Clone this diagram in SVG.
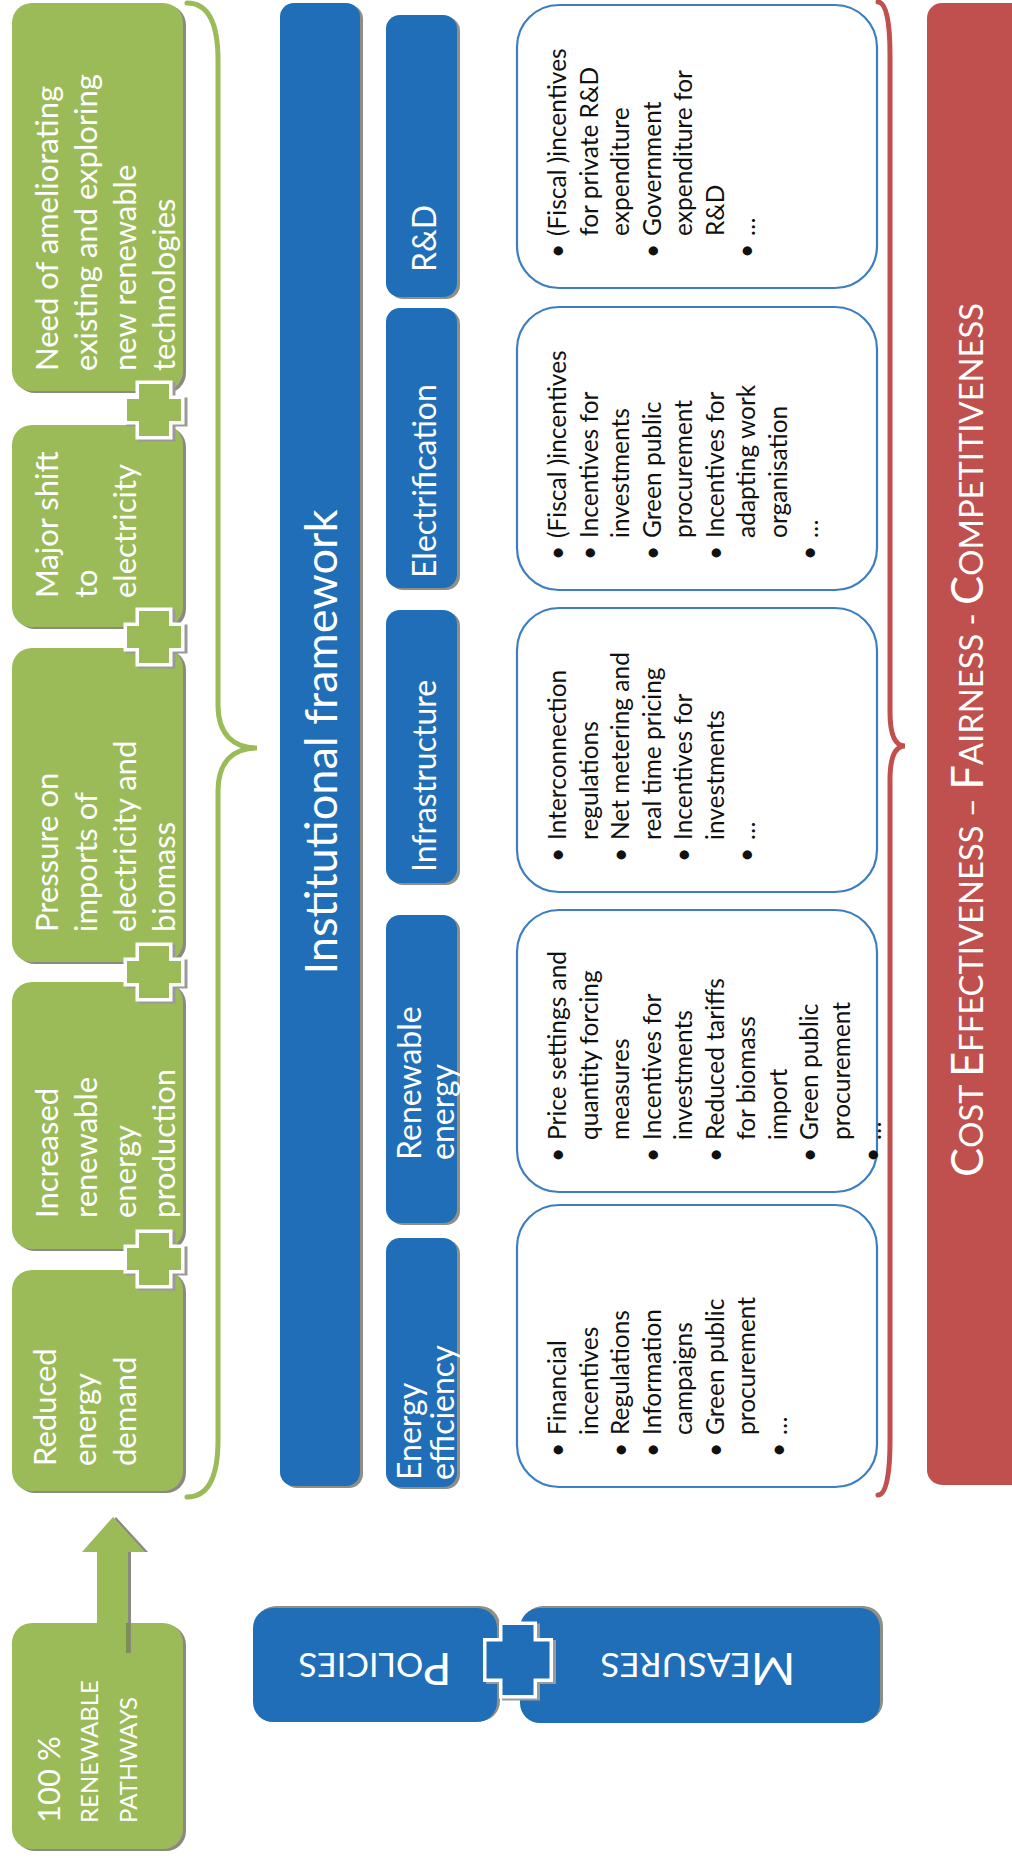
<svg xmlns="http://www.w3.org/2000/svg" width="1012" height="1858" viewBox="0 0 1012 1858">
<defs>
<style>
.gbox{fill:#9BBB59}
.gsh{fill:#8a8a80}
.bsh{fill:#8f8f86}
.blue{fill:#1F6EB7}
.red{fill:#C0504D}
.lbox{fill:#fff;stroke:#3D7EC2;stroke-width:2.2}
.wt{fill:#fff;font-family:Lato,"Liberation Sans",sans-serif}
.lt{fill:#111;font-family:Lato,"Liberation Sans",sans-serif;font-size:24.5px}
.g{font-size:31px}
.cat{font-size:32px}
.brace{fill:none;stroke-width:5;stroke-linecap:round}
.gplus{fill:#9BBB59;stroke:#fff;stroke-width:7;paint-order:stroke}
.bplus{fill:#1F6EB7;stroke:#fff;stroke-width:7;paint-order:stroke}
.psh{fill:#9a9a9a}
</style>
<path id="gcross" d="M-15,-26 H15 V-11 H27 V11 H15 V26 H-15 V11 H-27 V-11 H-15 Z"/>
</defs>
<rect width="1012" height="1858" fill="#fff"/>

<!-- green column -->
<g id="n-need">
<rect class="gsh" x="15" y="5" width="171" height="388" rx="20"/>
<rect class="gbox" x="12" y="3" width="171" height="388" rx="20"/>
<text class="wt g" transform="translate(58 371) rotate(-90)"><tspan x="0" y="0">Need of ameliorating</tspan><tspan x="0" y="39">existing and exploring</tspan><tspan x="0" y="78">new renewable</tspan><tspan x="0" y="117">technologies</tspan></text>
</g>
<g id="n-major">
<rect class="gsh" x="15" y="427" width="171" height="202" rx="20"/>
<rect class="gbox" x="12" y="425" width="171" height="202" rx="20"/>
<text class="wt g" transform="translate(58 598) rotate(-90)"><tspan x="0" y="0">Major shift</tspan><tspan x="0" y="39">to</tspan><tspan x="0" y="78">electricity</tspan></text>
</g>
<g id="n-pressure">
<rect class="gsh" x="15" y="650" width="171" height="314" rx="20"/>
<rect class="gbox" x="12" y="648" width="171" height="314" rx="20"/>
<text class="wt g" transform="translate(58 932) rotate(-90)"><tspan x="0" y="0">Pressure on</tspan><tspan x="0" y="39">imports of</tspan><tspan x="0" y="78">electricity and</tspan><tspan x="0" y="117">biomass</tspan></text>
</g>
<g id="n-increased">
<rect class="gsh" x="15" y="984" width="171" height="267" rx="20"/>
<rect class="gbox" x="12" y="982" width="171" height="267" rx="20"/>
<text class="wt g" transform="translate(58 1218) rotate(-90)"><tspan x="0" y="0">Increased</tspan><tspan x="0" y="39">renewable</tspan><tspan x="0" y="78">energy</tspan><tspan x="0" y="117">production</tspan></text>
</g>
<g id="n-reduced">
<rect class="gsh" x="15" y="1272" width="171" height="221" rx="20"/>
<rect class="gbox" x="12" y="1270" width="171" height="221" rx="20"/>
<text class="wt g" transform="translate(56 1466) rotate(-90)"><tspan x="0" y="0">Reduced</tspan><tspan x="0" y="40">energy</tspan><tspan x="0" y="80">demand</tspan></text>
</g>
<g id="n-pathways">
<rect class="gsh" x="15" y="1625" width="171" height="226" rx="20"/>
<rect class="gbox" x="12" y="1623" width="171" height="226" rx="20"/>
<text class="wt" transform="translate(60 1823) rotate(-90)"><tspan x="0" y="0" font-size="31">100 %</tspan><tspan x="0" y="38" font-size="24">RENEWABLE</tspan><tspan x="0" y="77" font-size="24">PATHWAYS</tspan></text>
</g>

<!-- institutional framework -->
<g id="n-institutional">
<rect class="bsh" x="283" y="5" width="80" height="1483" rx="14"/>
<rect class="blue" x="280" y="3" width="80" height="1483" rx="14"/>
<text class="wt" font-size="44" text-anchor="middle" textLength="465" lengthAdjust="spacingAndGlyphs" transform="translate(337 742) rotate(-90)">Institutional framework</text>
</g>

<!-- category boxes -->
<g id="n-rd">
<rect class="bsh" x="389" y="17" width="71" height="282" rx="14"/>
<rect class="blue" x="386" y="15" width="71" height="282" rx="14"/>
<text class="wt cat" transform="translate(436 272) rotate(-90)">R&amp;D</text>
</g>
<g id="n-electrification">
<rect class="bsh" x="389" y="310" width="71" height="280" rx="14"/>
<rect class="blue" x="386" y="308" width="71" height="280" rx="14"/>
<text class="wt cat" transform="translate(436 578) rotate(-90)">Electrification</text>
</g>
<g id="n-infrastructure">
<rect class="bsh" x="389" y="612" width="71" height="273" rx="14"/>
<rect class="blue" x="386" y="610" width="71" height="273" rx="14"/>
<text class="wt cat" transform="translate(436 872) rotate(-90)">Infrastructure</text>
</g>
<g id="n-renewable">
<rect class="bsh" x="389" y="917" width="71" height="308" rx="14"/>
<rect class="blue" x="386" y="915" width="71" height="308" rx="14"/>
<text class="wt cat" transform="translate(421 1160) rotate(-90)"><tspan x="0" y="0">Renewable</tspan><tspan x="0" y="33">energy</tspan></text>
</g>
<g id="n-efficiency">
<rect class="bsh" x="389" y="1240" width="71" height="249" rx="14"/>
<rect class="blue" x="386" y="1238" width="71" height="249" rx="14"/>
<text class="wt cat" transform="translate(421 1480) rotate(-90)"><tspan x="0" y="0">Energy</tspan><tspan x="0" y="33">efficiency</tspan></text>
</g>

<!-- list boxes -->
<g id="n-list-rd">
<rect class="lbox" x="517" y="5" width="360" height="283" rx="42"/>
<g class="lt" transform="translate(566 236) rotate(-90)">
<text x="-15" y="0" text-anchor="middle">•</text><text x="0" y="0">(Fiscal )incentives</text>
<text x="0" y="31.5">for private R&amp;D</text>
<text x="0" y="63">expenditure</text>
<text x="-15" y="94.5" text-anchor="middle">•</text><text x="0" y="94.5">Government</text>
<text x="0" y="126">expenditure for</text>
<text x="0" y="157.5">R&amp;D</text>
<text x="-15" y="189" text-anchor="middle">•</text><text x="0" y="189">…</text>
</g>
</g>
<g id="n-list-electrification">
<rect class="lbox" x="517" y="307" width="360" height="283" rx="42"/>
<g class="lt" transform="translate(566 538) rotate(-90)">
<text x="-15" y="0" text-anchor="middle">•</text><text x="0" y="0">(Fiscal )incentives</text>
<text x="-15" y="31.5" text-anchor="middle">•</text><text x="0" y="31.5">Incentives for</text>
<text x="0" y="63">investments</text>
<text x="-15" y="94.5" text-anchor="middle">•</text><text x="0" y="94.5">Green public</text>
<text x="0" y="126">procurement</text>
<text x="-15" y="157.5" text-anchor="middle">•</text><text x="0" y="157.5">Incentives for</text>
<text x="0" y="189">adapting work</text>
<text x="0" y="220.5">organisation</text>
<text x="-15" y="252" text-anchor="middle">•</text><text x="0" y="252">…</text>
</g>
</g>
<g id="n-list-infrastructure">
<rect class="lbox" x="517" y="608" width="360" height="284" rx="42"/>
<g class="lt" transform="translate(566 840) rotate(-90)">
<text x="-15" y="0" text-anchor="middle">•</text><text x="0" y="0">Interconnection</text>
<text x="0" y="31.5">regulations</text>
<text x="-15" y="63" text-anchor="middle">•</text><text x="0" y="63">Net metering and</text>
<text x="0" y="94.5">real time pricing</text>
<text x="-15" y="126" text-anchor="middle">•</text><text x="0" y="126">Incentives for</text>
<text x="0" y="157.5">investments</text>
<text x="-15" y="189" text-anchor="middle">•</text><text x="0" y="189">…</text>
</g>
</g>
<g id="n-list-renewable">
<rect class="lbox" x="517" y="910" width="360" height="282" rx="42"/>
<g class="lt" transform="translate(566 1140) rotate(-90)">
<text x="-15" y="0" text-anchor="middle">•</text><text x="0" y="0">Price settings and</text>
<text x="0" y="31.5">quantity forcing</text>
<text x="0" y="63">measures</text>
<text x="-15" y="94.5" text-anchor="middle">•</text><text x="0" y="94.5">Incentives for</text>
<text x="0" y="126">investments</text>
<text x="-15" y="157.5" text-anchor="middle">•</text><text x="0" y="157.5">Reduced tariffs</text>
<text x="0" y="189">for biomass</text>
<text x="0" y="220.5">import</text>
<text x="-15" y="252" text-anchor="middle">•</text><text x="0" y="252">Green public</text>
<text x="0" y="283.5">procurement</text>
<text x="-15" y="315" text-anchor="middle">•</text><text x="0" y="315">…</text>
</g>
</g>
<g id="n-list-efficiency">
<rect class="lbox" x="517" y="1205" width="360" height="282" rx="42"/>
<g class="lt" transform="translate(566 1435) rotate(-90)">
<text x="-15" y="0" text-anchor="middle">•</text><text x="0" y="0">Financial</text>
<text x="0" y="31.5">incentives</text>
<text x="-15" y="63" text-anchor="middle">•</text><text x="0" y="63">Regulations</text>
<text x="-15" y="94.5" text-anchor="middle">•</text><text x="0" y="94.5">Information</text>
<text x="0" y="126">campaigns</text>
<text x="-15" y="157.5" text-anchor="middle">•</text><text x="0" y="157.5">Green public</text>
<text x="0" y="189">procurement</text>
<text x="-15" y="220.5" text-anchor="middle">•</text><text x="0" y="220.5">…</text>
</g>
</g>

<!-- red bar -->
<g id="n-criteria">
<rect class="red" x="927" y="3" width="110" height="1482" rx="15"/>
<text class="wt" textLength="874" lengthAdjust="spacingAndGlyphs" text-anchor="middle" transform="translate(983 740) rotate(-90)"><tspan font-size="44">C</tspan><tspan font-size="33">OST </tspan><tspan font-size="44">E</tspan><tspan font-size="33">FFECTIVENESS – </tspan><tspan font-size="44">F</tspan><tspan font-size="33">AIRNESS - </tspan><tspan font-size="44">C</tspan><tspan font-size="33">OMPETITIVENESS</tspan></text>
</g>

<!-- policies / measures -->
<g id="n-policies">
<rect class="bsh" x="256" y="1606" width="244" height="115" rx="20"/>
<rect class="blue" x="253" y="1608" width="244" height="114" rx="20"/>
<text class="wt" text-anchor="middle" textLength="153" lengthAdjust="spacingAndGlyphs" transform="translate(375 1665) rotate(180)" y="12"><tspan font-size="44">P</tspan><tspan font-size="32">OLICIES</tspan></text>
</g>
<g id="n-measures">
<rect class="bsh" x="523" y="1606" width="360" height="115" rx="20"/>
<rect class="blue" x="520" y="1608" width="360" height="115" rx="20"/>
<text class="wt" text-anchor="middle" textLength="195" lengthAdjust="spacingAndGlyphs" transform="translate(698 1665) rotate(180)" y="12"><tspan font-size="44">M</tspan><tspan font-size="32">EASURES</tspan></text>
</g>

<!-- connectors -->
<g id="connectors">
<path class="brace" stroke="#9BBB59" d="M187,3 C208,3 218,22 218,60 L218,705 C218,735 234,748 257,748 C234,748 218,761 218,791 L218,1440 C218,1478 208,1497 187,1497"/>
<path class="brace" stroke="#C0504D" stroke-width="6" d="M878,2 C886,2 890,20 890,55 L890,712 C890,736 896,746 905,746 C896,746 890,756 890,780 L890,1440 C890,1476 886,1495 878,1495"/>
<g id="arrow">
<polygon points="116,1517 148,1552 131,1552 131,1653 100,1653 100,1552 85,1552" fill="#8a8a80"/>
<polygon points="113,1517 145,1552 128,1552 128,1653 97,1653 97,1552 82,1552" fill="#9BBB59"/>
<line x1="128" y1="1623" x2="128" y2="1653" stroke="#7d8f4e" stroke-width="4"/>
</g>
<g id="plus-1">
<use href="#gcross" x="157" y="412" class="psh" stroke="#9a9a9a" stroke-width="7"/>
<use href="#gcross" x="154" y="410" class="gplus"/>
</g>
<g id="plus-2">
<use href="#gcross" x="157" y="639" class="psh" stroke="#9a9a9a" stroke-width="7"/>
<use href="#gcross" x="154" y="637" class="gplus"/>
</g>
<g id="plus-3">
<use href="#gcross" x="157" y="974" class="psh" stroke="#9a9a9a" stroke-width="7"/>
<use href="#gcross" x="154" y="972" class="gplus"/>
</g>
<g id="plus-4">
<use href="#gcross" x="157" y="1261" class="psh" stroke="#9a9a9a" stroke-width="7"/>
<use href="#gcross" x="154" y="1259" class="gplus"/>
</g>
<g id="plus-5">
<path transform="translate(521 1662)" fill="#9a9a9a" stroke="#9a9a9a" stroke-width="7" d="M-15.5,-35 H15.5 V-18.5 H31.5 V18.5 H15.5 V35 H-15.5 V18.5 H-31.5 V-18.5 H-15.5 Z"/>
<path transform="translate(518 1660)" class="bplus" d="M-15.5,-35 H15.5 V-18.5 H31.5 V18.5 H15.5 V35 H-15.5 V18.5 H-31.5 V-18.5 H-15.5 Z"/>
</g>
</g>
</svg>
